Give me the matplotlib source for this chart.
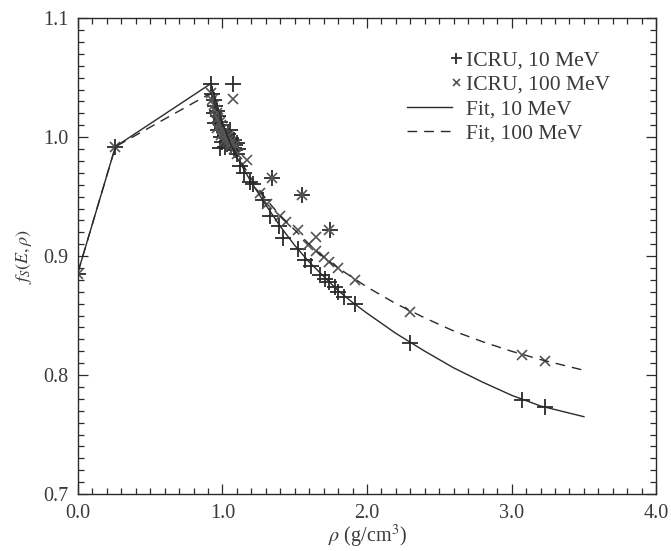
import matplotlib
matplotlib.use("Agg")
import matplotlib.pyplot as plt
from matplotlib.legend_handler import HandlerLine2D
from matplotlib.ticker import MultipleLocator

# Fit curves
rho_fit = [0.0, 0.26, 0.92, 0.96, 1.0, 1.05, 1.1, 1.2, 1.3, 1.4, 1.5, 1.6, 1.7,
           1.8, 1.9, 2.0, 2.2, 2.4, 2.6, 2.8, 3.0, 3.2, 3.4, 3.5]
fit_10 = [0.886, 0.992, 1.045, 1.028, 1.012, 0.996, 0.983, 0.962, 0.943, 0.925,
          0.909, 0.895, 0.883, 0.871, 0.861, 0.852, 0.835, 0.820, 0.806, 0.794,
          0.783, 0.774, 0.768, 0.765]
fit_100 = [0.886, 0.992, 1.037, 1.023, 1.010, 0.997, 0.985, 0.965, 0.948, 0.934,
           0.922, 0.910, 0.899, 0.890, 0.882, 0.874, 0.860, 0.848, 0.837, 0.828,
           0.820, 0.813, 0.807, 0.804]

# ICRU points, 10 MeV
rho_10 = [0.0, 0.26, 0.92, 0.93, 0.94, 0.95, 0.96, 0.97, 0.98, 0.99, 1.00, 1.01,
          1.02, 1.03, 1.04, 1.05, 1.06, 1.07, 1.08, 1.09, 1.10, 0.98, 1.03, 1.09,
          0.95, 0.97, 1.00, 1.02, 1.04, 1.05, 1.06, 1.08, 1.10, 1.11, 0.94, 0.99,
          1.12, 1.15, 1.19, 1.21, 1.28, 1.33, 1.34, 1.39, 1.42, 1.52, 1.55, 1.57,
          1.61, 1.675, 1.71, 1.74, 1.745, 1.78, 1.80, 1.84, 1.92, 2.30, 3.07, 3.23]
fs_10 = [0.885, 0.992, 1.045, 1.036, 1.031, 1.026, 1.022, 1.018, 1.013, 1.010,
         1.007, 1.004, 1.001, 0.999, 0.997, 0.995, 0.993, 1.045, 0.991, 0.989,
         0.986, 0.991, 0.994, 0.993, 1.012, 1.006, 0.996, 0.992, 1.003, 1.006,
         0.999, 0.998, 0.995, 0.990, 1.020, 1.000, 0.976, 0.970, 0.962, 0.961,
         0.947, 0.934, 0.966, 0.925, 0.915, 0.906, 0.951, 0.897, 0.892, 0.884,
         0.881, 0.878, 0.922, 0.874, 0.870, 0.866, 0.860, 0.827, 0.779, 0.773]

# ICRU points, 100 MeV
rho_100 = [0.0, 0.26, 0.92, 0.93, 0.94, 0.95, 0.96, 0.97, 0.98, 0.99, 1.00, 1.01,
           1.02, 1.03, 1.04, 1.05, 1.06, 1.07, 1.08, 1.10, 0.96, 0.99, 1.01, 1.04,
           1.06, 1.09, 1.17, 1.26, 1.31, 1.34, 1.40, 1.44, 1.52, 1.55, 1.59, 1.65,
           1.65, 1.70, 1.74, 1.74, 1.80, 1.92, 2.30, 3.07, 3.23]
fs_100 = [0.885, 0.992, 1.037, 1.031, 1.027, 1.023, 1.020, 1.016, 1.013, 1.010,
          1.007, 1.004, 1.002, 0.999, 0.997, 0.995, 0.993, 1.032, 0.990, 0.986,
          1.008, 1.002, 0.997, 1.001, 0.996, 0.993, 0.981, 0.953, 0.944, 0.966,
          0.934, 0.929, 0.922, 0.951, 0.909, 0.904, 0.916, 0.899, 0.895, 0.922,
          0.890, 0.880, 0.853, 0.817, 0.812]

plt.rcParams['font.family'] = ['Liberation Serif', 'DejaVu Serif']
plt.rcParams['mathtext.fontset'] = 'stix'

ink = '#2a2a2a'
txt = '#3a3a3a'


class RightMarker(HandlerLine2D):
    # single marker drawn just right of the handle box, next to the text
    def get_xdata(self, legend, xdescent, ydescent, width, height, fontsize):
        c = -xdescent + width + 0.2 * fontsize
        return [c - 1, c + 1], [c]


fig = plt.figure(figsize=(6.71, 5.51), dpi=100)
ax = fig.add_axes((0.116, 0.1034, 0.862, 0.8636))

pts10, = ax.plot(rho_10, fs_10, linestyle='none', marker='+', markersize=11,
                 markeredgewidth=1.3, color=ink, label='ICRU, 10 MeV')
pts100, = ax.plot(rho_100, fs_100, linestyle='none', marker='x', markersize=7,
                  markeredgewidth=1.2, color='#555555', label='ICRU, 100 MeV')
ax.plot(rho_fit, fit_10, '-', color=ink, lw=1.0, label='Fit, 10 MeV')
ax.plot(rho_fit, fit_100, '--', color=ink, lw=1.0, dashes=(7, 5),
        label='Fit, 100 MeV')

ax.set_xlim(0, 4.0)
ax.set_ylim(0.7, 1.1)
ax.xaxis.set_major_locator(MultipleLocator(1.0))
ax.xaxis.set_minor_locator(MultipleLocator(0.1))
ax.yaxis.set_major_locator(MultipleLocator(0.1))
ax.yaxis.set_minor_locator(MultipleLocator(0.01))
ax.xaxis.set_major_formatter(lambda v, p: f'{v:.1f}')
ax.yaxis.set_major_formatter(lambda v, p: f'{v:.1f}')
ax.tick_params(which='both', direction='in', top=True, right=True,
               color=ink, labelcolor=txt, labelsize=14.5, width=0.9)
ax.tick_params(which='major', length=7, pad=7)
ax.tick_params(which='minor', length=4)
for s in ax.spines.values():
    s.set_color(ink)
    s.set_linewidth(1.0)

ax.set_xlabel(r'$\rho$ (g/cm$^3$)', fontsize=14.5, color=txt, labelpad=0)
ax.set_ylabel(r'$f_S(E,\rho)$', fontsize=13, color=txt, labelpad=6)

leg = ax.legend(loc='upper right', bbox_to_anchor=(0.935, 0.95), frameon=False,
                fontsize=15.5, handlelength=2.1, handletextpad=0.65,
                labelspacing=0.2, borderaxespad=0.0, markerscale=0.72,
                handler_map={pts10: RightMarker(), pts100: RightMarker()})
for t in leg.get_texts():
    t.set_color(txt)

fig.savefig('out.png', dpi=100)
